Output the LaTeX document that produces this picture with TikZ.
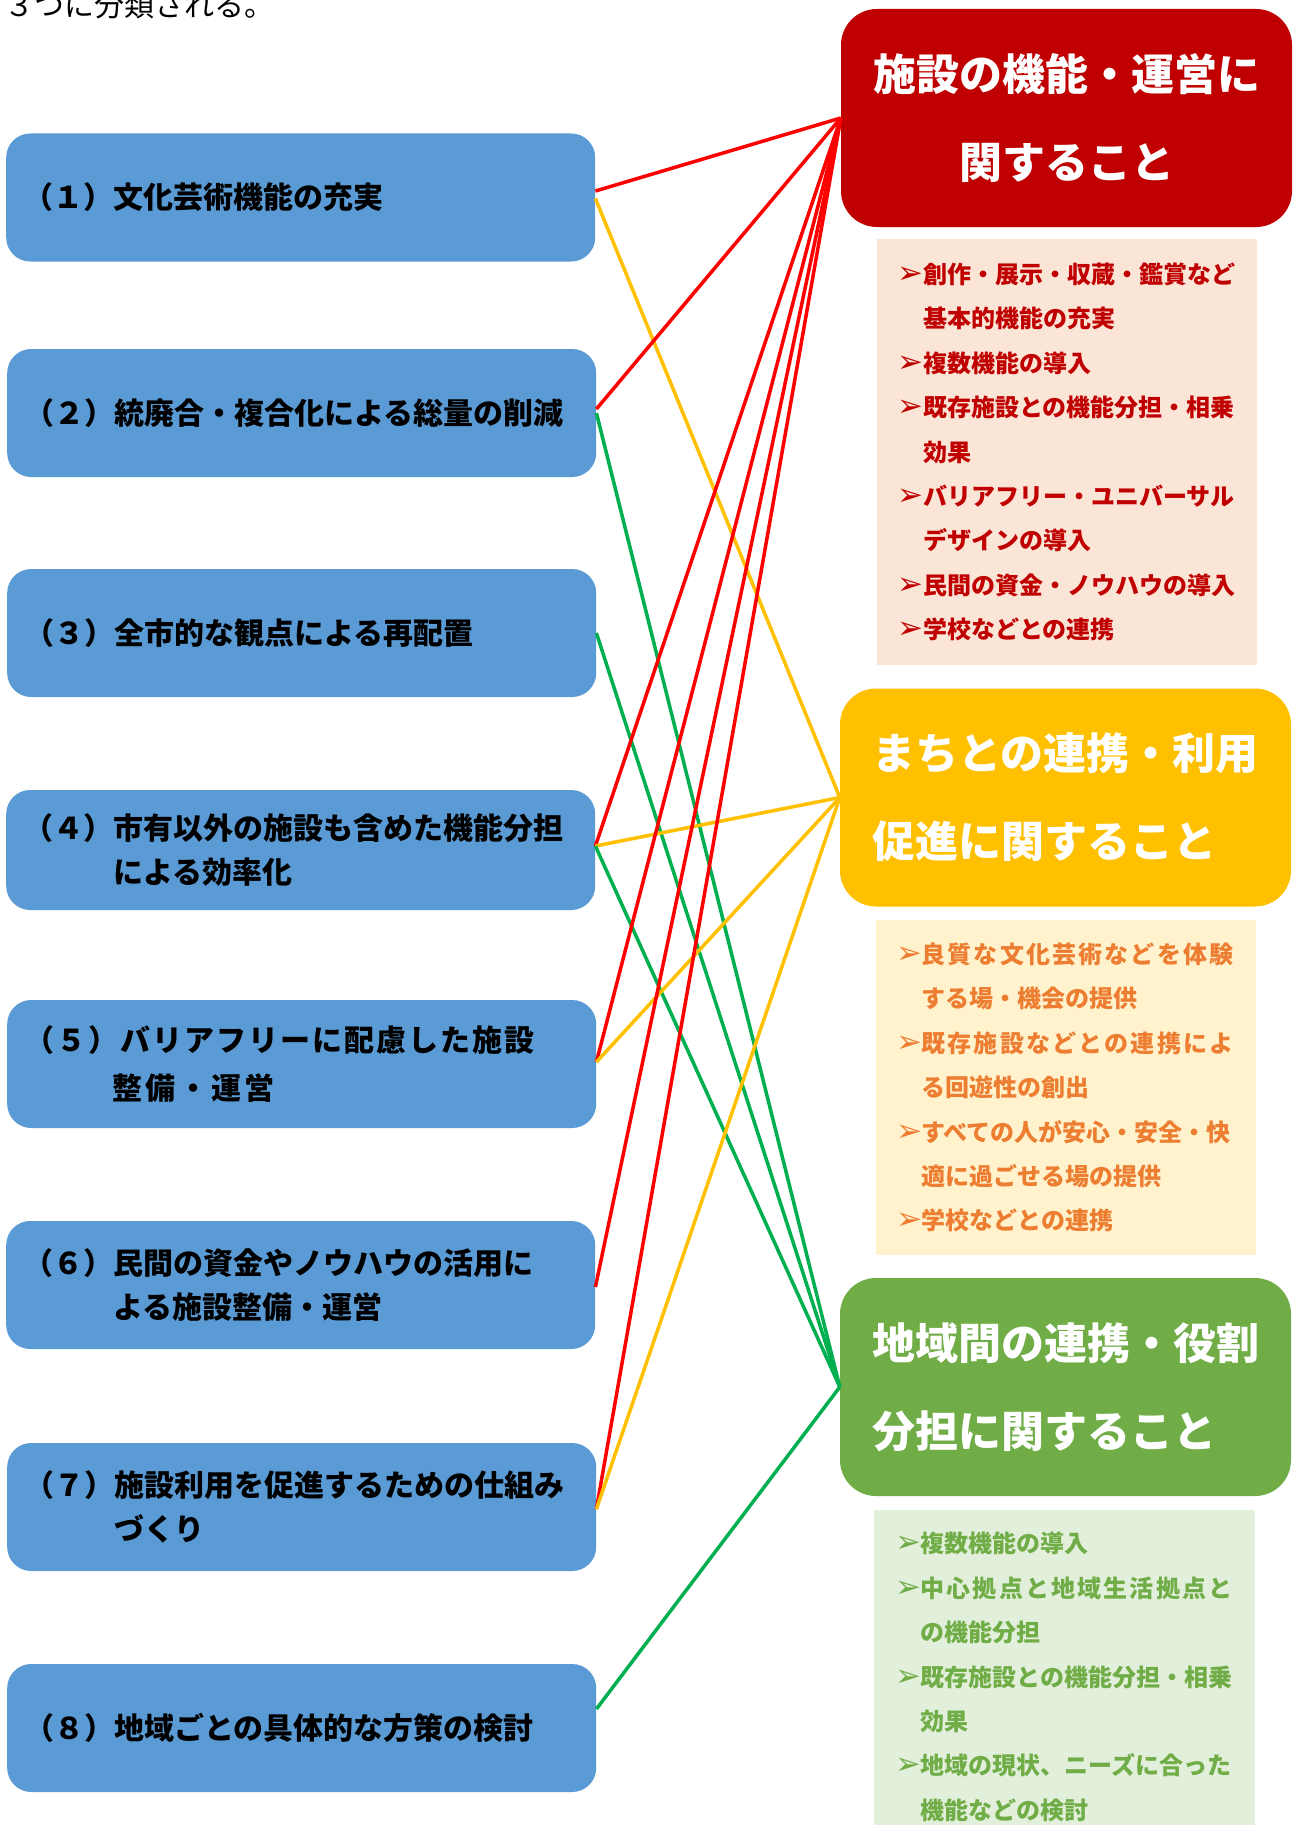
\documentclass[tikz,border=0pt]{standalone}
\usepackage{fontspec}
\newfontfamily\jp{Noto Sans CJK JP}
\newfontfamily\sym{DejaVu Sans}
\definecolor{boxblue}{HTML}{5B9BD5}
\definecolor{hred}{HTML}{C00000}
\definecolor{redbg}{HTML}{FBE5D6}
\definecolor{hyel}{HTML}{FFC000}
\definecolor{yelbg}{HTML}{FFF2CC}
\definecolor{yeltext}{HTML}{ED7D31}
\definecolor{hgrn}{HTML}{70AD47}
\definecolor{grnbg}{HTML}{E2EFDA}
\definecolor{lred}{HTML}{FF0000}
\definecolor{lyel}{HTML}{FFC000}
\definecolor{lgrn}{HTML}{00B050}
\ExplSyntaxOn
\NewDocumentCommand \spr { m m }
  { \hbox_to_wd:nn {#1} { \tl_map_inline:nn {#2} { ##1 \hfil } \unskip } }
\ExplSyntaxOff
\newcommand\arw{\makebox[24pt][l]{\hspace*{-1.5pt}{\sym\mdseries\fontsize{31pt}{31pt}\selectfont ➢}}}
\newcommand\ind{\hspace*{24pt}}
\tikzset{
  leftbox/.style={fill=boxblue, rounded corners=24pt, minimum width=589pt,
    minimum height=128pt, anchor=west, inner xsep=17pt, text width=555pt,
    align=left, font=\jp\bfseries\fontsize{30pt}{44pt}\selectfont},
  headbox/.style={rounded corners=36pt, minimum width=451pt, minimum height=218pt,
    inner xsep=32pt, text width=387pt, text=white,
    font=\jp\bfseries\fontsize{43pt}{88pt}\selectfont},
  listbox/.style={inner xsep=22pt, text width=336pt, align=left,
    font=\jp\bfseries\fontsize{24pt}{44.4pt}\selectfont},
  rline/.style={draw=lred, line width=3.5pt},
  yline/.style={draw=lyel, line width=3.5pt},
  gline/.style={draw=lgrn, line width=3.5pt}
}
\begin{document}
\begin{tikzpicture}[x=1pt,y=-1pt]
\useasboundingbox (0,0) rectangle (1297,1825);
\clip (0,0) rectangle (1297,1825);
\fill[white] (0,0) rectangle (1297,1825);

\node[anchor=base west, inner sep=0pt, font=\jp\fontsize{30pt}{30pt}\selectfont] (intro) at (4,17) {３つに分類される。};

% left boxes
\node[leftbox] (b1) at (6,197.5) {（１）文化芸術機能の充実};
\node[leftbox] (b2) at (7,413) {（２）統廃合・複合化による総量の削減};
\node[leftbox] (b3) at (7,633) {（３）全市的な観点による再配置};
\node[leftbox, minimum height=120pt] (b4) at (6,850) {（４）市有以外の施設も含めた機能分担\\\hspace*{3em}による効率化};
\node[leftbox, font=\jp\bfseries\fontsize{30pt}{48pt}\selectfont] (b5) at (7,1064) {\spr{510pt}{（５）バリアフリーに配慮した施設}\\\hspace*{88pt}\spr{162pt}{整備・運営}};
\node[leftbox] (b6) at (6,1285) {（６）民間の資金やノウハウの活用に\\\hspace*{3em}よる施設整備・運営};
\node[leftbox] (b7) at (7,1507) {（７）施設利用を促進するための仕組み\\\hspace*{3em}づくり};
\node[leftbox] (b8) at (7,1728) {（８）地域ごとの具体的な方策の検討};

% header boxes
\node[headbox, fill=hred, align=center] (rh) at (1066.5,118) {施設の機能・運営に\\関すること};
\node[headbox, fill=hyel, align=left] (yh) at (1065.5,797.5) {まちとの連携・利用\\促進に関すること};
\node[headbox, fill=hgrn, align=left] (gh) at (1065.5,1387) {地域間の連携・役割\\分担に関すること};

% list boxes
\node[listbox, fill=redbg, text=hred, minimum width=380pt, minimum height=426pt] (rl) at (1067,452) {%
\arw 創作・展示・収蔵・鑑賞など\\
\ind 基本的機能の充実\\
\arw 複数機能の導入\\
\arw 既存施設との機能分担・相乗\\
\ind 効果\\
\arw バリアフリー・ユニバーサル\\
\ind デザインの導入\\
\arw 民間の資金・ノウハウの導入\\
\arw 学校などとの連携};
\node[listbox, fill=yelbg, text=yeltext, minimum width=379pt, minimum height=335pt] (yl) at (1065.5,1087.5) {%
\arw\spr{312pt}{良質な文化芸術などを体験}\\
\ind する場・機会の提供\\
\arw\spr{312pt}{既存施設などとの連携によ}\\
\ind る回遊性の創出\\
\arw すべての人が安心・安全・快\\
\ind 適に過ごせる場の提供\\
\arw 学校などとの連携};
\node[listbox, fill=grnbg, text=hgrn, minimum width=381pt, minimum height=334pt] (gl) at (1064.5,1677) {%
\arw 複数機能の導入\\
\arw\spr{312pt}{中心拠点と地域生活拠点と}\\
\ind の機能分担\\
\arw 既存施設との機能分担・相乗\\
\ind 効果\\
\arw 地域の現状、ニーズに合った\\
\ind 機能などの検討};

% connectors
\draw[yline] ([yshift=-1pt]b1.east) -- (yh.west);
\draw[rline] ([yshift=6.5pt]b1.east) -- (rh.west);
\draw[rline] ([yshift=4pt]b2.east) -- (rh.west);
\draw[gline] (b2.east) -- (gh.west);
\draw[gline] (b3.east) -- (gh.west);
\draw[rline] ([yshift=4pt]b4.east) -- (rh.west);
\draw[yline] ([yshift=4pt]b4.east) -- (yh.west);
\draw[gline] ([yshift=4pt]b4.east) -- (gh.west);
\draw[rline] ([yshift=2pt]b5.east) -- (rh.west);
\draw[yline] ([yshift=2pt]b5.east) -- (yh.west);
\draw[rline] ([yshift=-2pt]b6.east) -- (rh.west);
\draw[rline] ([yshift=-2pt]b7.east) -- (rh.west);
\draw[yline] ([yshift=-2pt]b7.east) -- (yh.west);
\draw[gline] ([yshift=19pt]b8.east) -- (gh.west);
\end{tikzpicture}
\end{document}
